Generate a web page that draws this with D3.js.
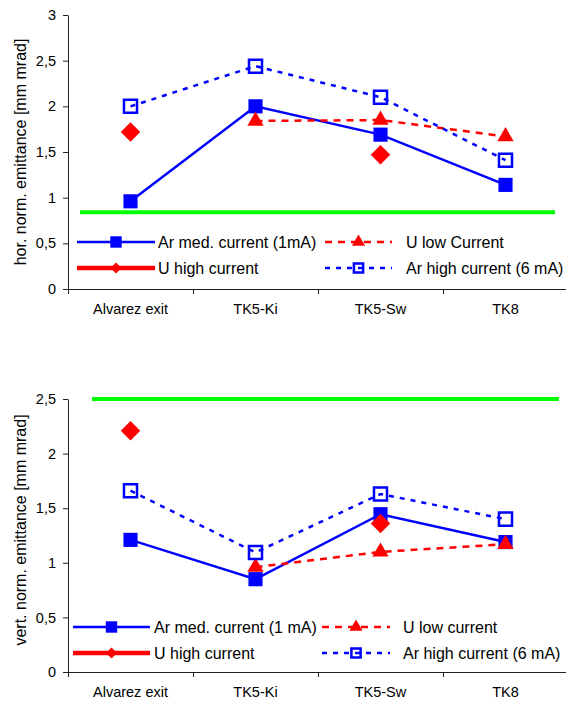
<!DOCTYPE html>
<html>
<head>
<meta charset="utf-8">
<script src="https://cdn.jsdelivr.net/npm/d3@7"></script>
<style>
body { margin: 0; background: #fff; }
svg { display: block; }
text { font-family: "Liberation Sans", Arial, sans-serif; fill: #000; }
</style>
</head>
<body>
<svg id="chart" width="566" height="701"></svg>
<script>
// categories along the beam line
var categories = ['Alvarez exit', 'TK5-Ki', 'TK5-Sw', 'TK8'];

// horizontal emittance [mm mrad]
var horArMed = [0.96, 2.0, 1.69, 1.14];
var horULow = [null, 1.84, 1.85, 1.67];
var horUHigh = [1.72, null, 1.47, null];
var horArHigh = [2.0, 2.44, 2.1, 1.41];
var horLimit = 0.84;
var horTicks = [0, 0.5, 1, 1.5, 2, 2.5, 3];

// vertical emittance [mm mrad]
var vertArMed = [1.21, 0.85, 1.445, 1.19];
var vertULow = [null, 0.96, 1.1, 1.17];
var vertUHigh = [2.21, null, 1.36, null];
var vertArHigh = [1.66, 1.095, 1.63, 1.4];
var vertLimit = 2.5;
var vertTicks = [0, 0.5, 1, 1.5, 2, 2.5];

var BLUE = '#0000ff', RED = '#ff0000', GREEN = '#00ff00';

var svg = d3.select('#chart');

var styles = {
    arMed: { color: BLUE, width: 2.5, dash: null, marker: 'square', fill: true },
    uLow: { color: RED, width: 2.5, dash: '7,6', marker: 'triangle', fill: true },
    uHigh: { color: RED, width: 4.5, dash: null, marker: 'diamond', fill: true },
    arHigh: { color: BLUE, width: 2.5, dash: '5,6', marker: 'square', fill: false }
};

function fmt(d) {
    return String(d).replace('.', ',');
}

function symbolPath(kind, big) {
    if (kind === 'square') {
        return d3.symbol().type(d3.symbolSquare).size(big ? 200 : 130)();
    }
    if (kind === 'triangle') {
        return d3.symbol().type(d3.symbolTriangle).size(big ? 115 : 75)();
    }
    return d3.symbol().type(d3.symbolSquare).size(big ? 190 : 62)();
}

function drawMarker(g, kind, st, x, y, big) {
    var p = g.append('path')
        .attr('d', symbolPath(kind, big))
        .attr('transform', 'translate(' + x + ',' + y + ')' + (kind === 'diamond' ? ' rotate(45)' : ''));
    if (st.fill) {
        p.attr('fill', st.color);
    } else {
        var s = big ? 170 : 85;
        p.attr('d', d3.symbol().type(d3.symbolSquare).size(s)())
            .attr('fill', 'none')
            .attr('stroke', st.color)
            .attr('stroke-width', 2.5);
    }
}

function drawPanel(opt) {
    var g = svg.append('g');

    var x = d3.scaleBand().domain(categories).range([68, 568]);
    var xPos = d3.scaleLinear().domain([0, 4]).range([68, 568]);
    var y = d3.scaleLinear().domain([0, opt.yMax]).range([opt.y0, opt.y1]);

    // y axis
    var ya = g.append('g')
        .attr('transform', 'translate(68,0)')
        .call(d3.axisLeft(y).tickValues(opt.ticks).tickFormat(fmt).tickSize(5).tickSizeOuter(0).tickPadding(7));
    ya.selectAll('text').style('font-size', '14.5px').attr('fill', '#000');
    ya.selectAll('line, path').attr('stroke', '#222');

    // x axis: ticks at category boundaries
    var xa = g.append('g')
        .attr('transform', 'translate(0,' + opt.y0 + ')')
        .call(d3.axisBottom(xPos).tickValues([0, 1, 2, 3, 4]).tickFormat('').tickSize(5).tickSizeOuter(0));
    xa.selectAll('line, path').attr('stroke', '#222');

    g.selectAll('.cat')
        .data(categories)
        .enter().append('text')
        .attr('x', function (d) { return x(d) + x.bandwidth() / 2; })
        .attr('y', opt.y0 + 25)
        .attr('text-anchor', 'middle')
        .style('font-size', '14.5px')
        .text(function (d) { return d; });

    // axis title
    g.append('text')
        .attr('transform', 'translate(' + 26 + ',' + opt.titleY + ') rotate(-90)')
        .attr('text-anchor', 'middle')
        .style('font-size', '16px')
        .text(opt.title);

    // limit line
    g.append('line')
        .attr('x1', xPos(opt.limitFrom)).attr('x2', xPos(opt.limitTo))
        .attr('y1', y(opt.limit)).attr('y2', y(opt.limit))
        .attr('stroke', GREEN).attr('stroke-width', 4);

    var line = d3.line()
        .defined(function (d) { return d !== null; })
        .x(function (d, i) { return x(categories[i]) + x.bandwidth() / 2; })
        .y(function (d) { return y(d); });

    opt.series.forEach(function (s) {
        var st = styles[s.key];
        g.append('path')
            .datum(s.values)
            .attr('d', line)
            .attr('fill', 'none')
            .attr('stroke', st.color)
            .attr('stroke-width', st.width === 4.5 ? 2.5 : st.width)
            .attr('stroke-dasharray', st.dash);
    });
    opt.series.forEach(function (s) {
        var st = styles[s.key];
        s.values.forEach(function (v, i) {
            if (v === null) return;
            drawMarker(g, st.marker, st, x(categories[i]) + x.bandwidth() / 2, y(v), true);
        });
    });

    // legend
    opt.legend.forEach(function (l) {
        var st = styles[l.key];
        var lg = g.append('g');
        lg.append('line')
            .attr('x1', l.x).attr('x2', l.x + l.len)
            .attr('y1', l.y).attr('y2', l.y)
            .attr('stroke', st.color)
            .attr('stroke-width', st.width)
            .attr('stroke-dasharray', st.dash);
        drawMarker(lg, st.marker, st, l.x + l.len / 2, l.y, false);
        lg.append('text')
            .attr('x', l.tx)
            .attr('y', l.y)
            .attr('dy', '0.36em')
            .style('font-size', '16px')
            .text(l.label);
    });
}

drawPanel({
    yMax: 3, y0: 289, y1: 15, ticks: horTicks,
    title: 'hor. norm. emittance [mm mrad]', titleY: 152,
    limit: horLimit, limitFrom: 0.096, limitTo: 3.896,
    series: [
        { key: 'arMed', values: horArMed },
        { key: 'uLow', values: horULow },
        { key: 'uHigh', values: horUHigh },
        { key: 'arHigh', values: horArHigh }
    ],
    legend: [
        { key: 'arMed', x: 77, len: 78, tx: 158, y: 242, label: 'Ar med. current (1mA)' },
        { key: 'uLow', x: 325, len: 67, tx: 406, y: 242, label: 'U low Current' },
        { key: 'uHigh', x: 77, len: 78, tx: 158, y: 268, label: 'U high current' },
        { key: 'arHigh', x: 325, len: 67, tx: 406, y: 268, label: 'Ar high current (6 mA)' }
    ]
});

drawPanel({
    yMax: 2.5, y0: 672, y1: 399, ticks: vertTicks,
    title: 'vert. norm. emittance [mm mrad]', titleY: 530,
    limit: vertLimit, limitFrom: 0.192, limitTo: 3.928,
    series: [
        { key: 'arMed', values: vertArMed },
        { key: 'uLow', values: vertULow },
        { key: 'uHigh', values: vertUHigh },
        { key: 'arHigh', values: vertArHigh }
    ],
    legend: [
        { key: 'arMed', x: 73, len: 77, tx: 154, y: 627, label: 'Ar med. current (1 mA)' },
        { key: 'uLow', x: 322, len: 68, tx: 403, y: 627, label: 'U low current' },
        { key: 'uHigh', x: 73, len: 77, tx: 154, y: 653, label: 'U high current' },
        { key: 'arHigh', x: 322, len: 68, tx: 403, y: 653, label: 'Ar high current (6 mA)' }
    ]
});
</script>
</body>
</html>
